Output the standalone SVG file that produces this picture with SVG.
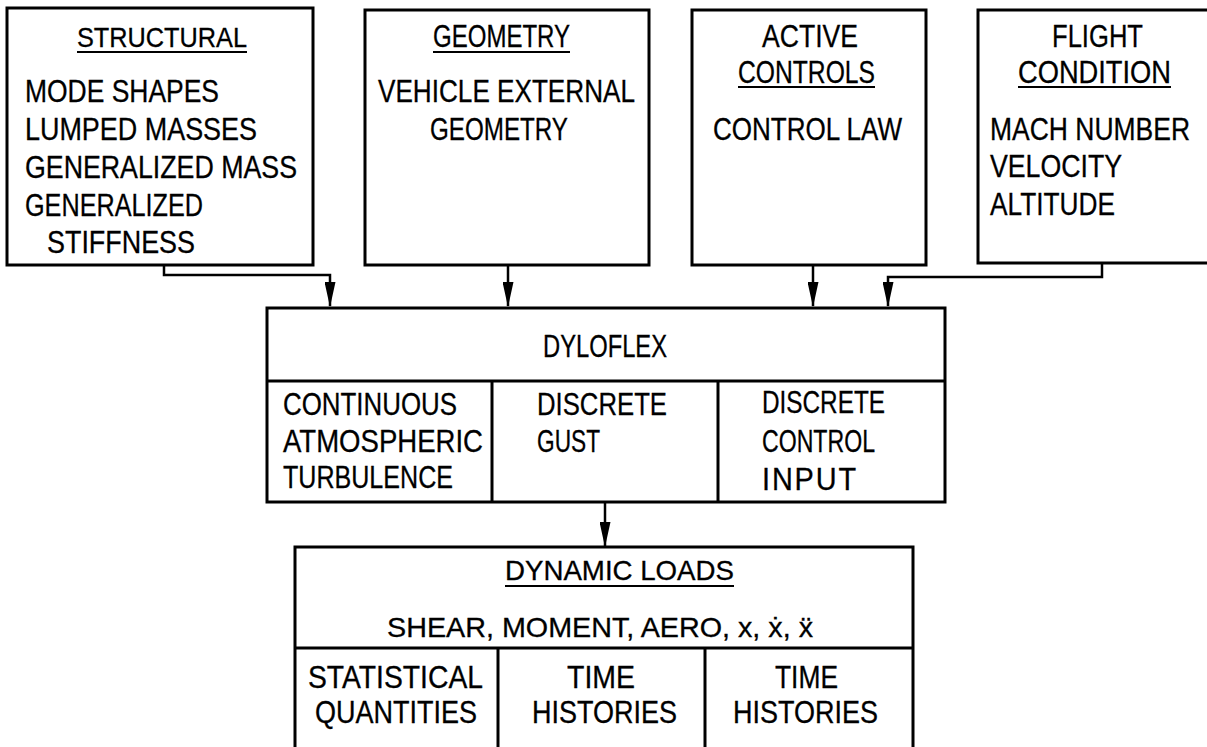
<svg xmlns="http://www.w3.org/2000/svg" width="1207" height="747" viewBox="0 0 1207 747">
<style>
.bx{fill:#fff;stroke:#000;stroke-width:3}
.ln{fill:none;stroke:#000;stroke-width:3}
.ul{stroke:#000;stroke-width:2}
.t{font-family:"Liberation Sans",Arial,sans-serif;font-size:31px;fill:#000;stroke:#000;stroke-width:0.3}
.s{font-size:28px}
.cn{fill:none;stroke:#000;stroke-width:2.5}
</style>
<defs>
<marker id="ah" markerUnits="userSpaceOnUse" markerWidth="25" markerHeight="11" viewBox="0 0 25 11" refX="24" refY="5.5" orient="auto">
<path d="M0,0 L25,5.5 L0,11 Z" fill="#000"/>
</marker>
</defs>
<rect width="1207" height="747" fill="#fff"/>

<g id="structural">
<rect class="bx" x="7" y="8" width="306" height="257"/>
<text class="t s" x="77" y="47" textLength="170" lengthAdjust="spacingAndGlyphs">STRUCTURAL</text>
<line class="ul" x1="77" y1="52" x2="247" y2="52"/>
<text class="t" x="25" y="102" textLength="194" lengthAdjust="spacingAndGlyphs">MODE SHAPES</text>
<text class="t" x="25" y="140" textLength="232" lengthAdjust="spacingAndGlyphs">LUMPED MASSES</text>
<text class="t" x="25" y="178" textLength="272" lengthAdjust="spacingAndGlyphs">GENERALIZED MASS</text>
<text class="t" x="25" y="216" textLength="178" lengthAdjust="spacingAndGlyphs">GENERALIZED</text>
<text class="t" x="47" y="253" textLength="148" lengthAdjust="spacingAndGlyphs">STIFFNESS</text>
</g>

<g id="geometry">
<rect class="bx" x="365" y="10" width="284" height="255"/>
<text class="t" x="433" y="47" textLength="137" lengthAdjust="spacingAndGlyphs">GEOMETRY</text>
<line class="ul" x1="433" y1="52" x2="570" y2="52"/>
<text class="t" x="378" y="102" textLength="257" lengthAdjust="spacingAndGlyphs">VEHICLE EXTERNAL</text>
<text class="t" x="430" y="140" textLength="138" lengthAdjust="spacingAndGlyphs">GEOMETRY</text>
</g>

<g id="active-controls">
<rect class="bx" x="692" y="10" width="234" height="255"/>
<text class="t" x="762" y="47" textLength="96" lengthAdjust="spacingAndGlyphs">ACTIVE</text>
<text class="t" x="738" y="83" textLength="137" lengthAdjust="spacingAndGlyphs">CONTROLS</text>
<line class="ul" x1="738" y1="87" x2="875" y2="87"/>
<text class="t" x="713" y="140" textLength="189" lengthAdjust="spacingAndGlyphs">CONTROL LAW</text>
</g>

<g id="flight-condition">
<path class="bx" d="M1212,10 L978,10 L978,263 L1212,263"/>
<text class="t" x="1052" y="47" textLength="91" lengthAdjust="spacingAndGlyphs">FLIGHT</text>
<text class="t" x="1018" y="83" textLength="153" lengthAdjust="spacingAndGlyphs">CONDITION</text>
<line class="ul" x1="1018" y1="87" x2="1171" y2="87"/>
<text class="t" x="990" y="140" textLength="200" lengthAdjust="spacingAndGlyphs">MACH NUMBER</text>
<text class="t" x="990" y="177" textLength="132" lengthAdjust="spacingAndGlyphs">VELOCITY</text>
<text class="t" x="990" y="215" textLength="125" lengthAdjust="spacingAndGlyphs">ALTITUDE</text>
</g>

<g id="dyloflex">
<rect class="bx" x="267" y="308" width="678" height="194"/>
<line class="ln" x1="267" y1="381" x2="945" y2="381"/>
<line class="ln" x1="492" y1="381" x2="492" y2="502"/>
<line class="ln" x1="718" y1="381" x2="718" y2="502"/>
<text class="t" x="543" y="357" textLength="124" lengthAdjust="spacingAndGlyphs">DYLOFLEX</text>
<text class="t" x="283" y="415" textLength="174" lengthAdjust="spacingAndGlyphs">CONTINUOUS</text>
<text class="t" x="283" y="452" textLength="200" lengthAdjust="spacingAndGlyphs">ATMOSPHERIC</text>
<text class="t" x="283" y="488" textLength="170" lengthAdjust="spacingAndGlyphs">TURBULENCE</text>
<text class="t" x="537" y="415" textLength="130" lengthAdjust="spacingAndGlyphs">DISCRETE</text>
<text class="t" x="537" y="452" textLength="63" lengthAdjust="spacingAndGlyphs">GUST</text>
<text class="t" x="762" y="413" textLength="123" lengthAdjust="spacingAndGlyphs">DISCRETE</text>
<text class="t" x="762" y="452" textLength="113" lengthAdjust="spacingAndGlyphs">CONTROL</text>
<text class="t" x="762" y="490" letter-spacing="2" textLength="96" lengthAdjust="spacingAndGlyphs">INPUT</text>
</g>

<g id="dynamic-loads">
<path class="bx" d="M295,760 L295,547 L913,547 L913,760"/>
<line class="ln" x1="295" y1="648" x2="913" y2="648"/>
<line class="ln" x1="498" y1="648" x2="498" y2="760"/>
<line class="ln" x1="705" y1="648" x2="705" y2="760"/>
<text class="t s" x="505" y="580" textLength="229" lengthAdjust="spacingAndGlyphs">DYNAMIC LOADS</text>
<line class="ul" x1="505" y1="586" x2="734" y2="586"/>
<text class="t s" x="387" y="637" textLength="426" lengthAdjust="spacingAndGlyphs">SHEAR, MOMENT, AERO, x, ẋ, ẍ</text>
<text class="t" x="308" y="688" textLength="175" lengthAdjust="spacingAndGlyphs">STATISTICAL</text>
<text class="t" x="315" y="723" textLength="162" lengthAdjust="spacingAndGlyphs">QUANTITIES</text>
<text class="t" x="567" y="688" textLength="68" lengthAdjust="spacingAndGlyphs">TIME</text>
<text class="t" x="532" y="723" textLength="145" lengthAdjust="spacingAndGlyphs">HISTORIES</text>
<text class="t" x="775" y="688" textLength="63" lengthAdjust="spacingAndGlyphs">TIME</text>
<text class="t" x="733" y="723" textLength="145" lengthAdjust="spacingAndGlyphs">HISTORIES</text>
</g>

<g id="connectors">
<polyline class="cn" points="164,265 164,275 330,275 330,306" marker-end="url(#ah)"/>
<polyline class="cn" points="508,265 508,306" marker-end="url(#ah)"/>
<polyline class="cn" points="813,265 813,306" marker-end="url(#ah)"/>
<polyline class="cn" points="1102,263 1102,277 888,277 888,306" marker-end="url(#ah)"/>
<polyline class="cn" points="605,502 605,546" marker-end="url(#ah)"/>
</g>
</svg>
